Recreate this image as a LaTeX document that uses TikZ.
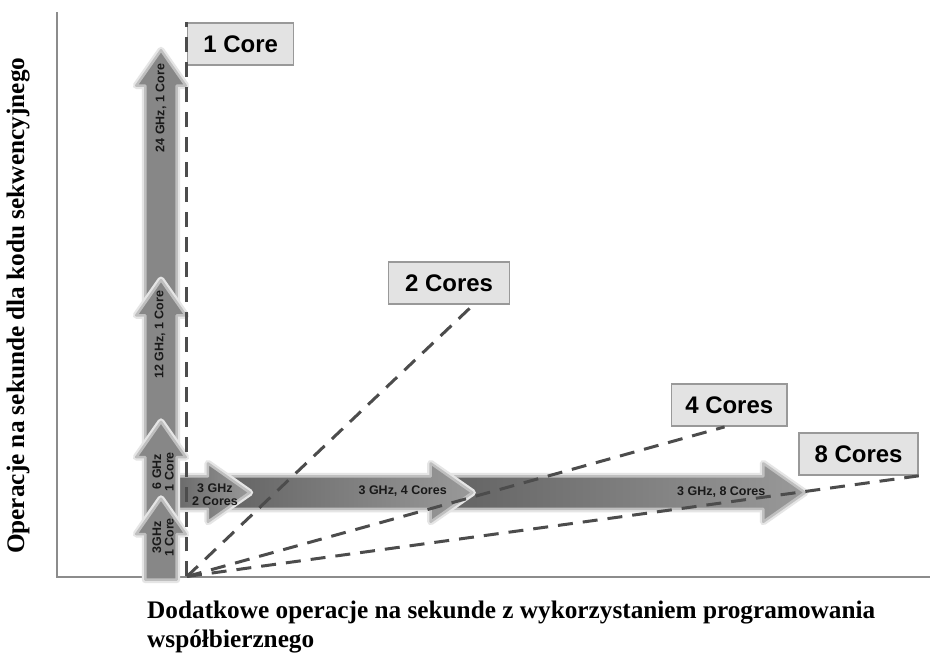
\documentclass[tikz,border=0pt]{standalone}
\usepackage{fontspec}
\setmainfont{Liberation Serif}
\setsansfont{Liberation Sans}
\usetikzlibrary{shapes.arrows,calc}

\tikzset{
	growth/.style={single arrow, inner sep=0pt, single arrow tip angle=70,
		line join=round, draw=black!25, line width=2.5pt,
		preaction={draw=black!10, line width=7pt, line join=round}},
	uparr/.style={growth, rotate=90, anchor=tip, fill=black!47,
		text height=14.5pt, text depth=14.5pt, single arrow head extend=9pt},
	rightarr/.style={growth, anchor=tip, left color=black!62, right color=black!40,
		text height=15pt, text depth=15pt, single arrow head extend=13pt},
	armlabel/.style={inner sep=0pt, align=center, text=black!90,
		font=\sffamily\bfseries\fontsize{12.5}{12.5}\selectfont},
	corebox/.style={draw=black!40, fill=black!11, line width=1.5pt,
		minimum height=42pt, inner sep=0pt,
		font=\sffamily\bfseries\fontsize{24}{24}\selectfont},
	coreline/.style={draw=black!70, line width=3pt, dash pattern=on 15pt off 10pt},
	axisline/.style={draw=black!45, line width=2pt},
	axislabel/.style={inner sep=0pt, font=\bfseries\fontsize{25.3}{29}\selectfont}
}

\begin{document}
\begin{tikzpicture}[x=1pt, y=-1pt]
		\filldraw[white] (0, 0) rectangle (931, 656);

		\coordinate (O) at (187, 577);

		\coordinate (T3) at (161, 497);
		\coordinate (T6) at (161, 420);
		\coordinate (T12) at (161, 278);
		\coordinate (T24) at (161, 48);

		\coordinate (R2) at (252, 493);
		\coordinate (R4) at (475, 493);
		\coordinate (R8) at (808, 493);

		% axes
		\draw[axisline] (57, 12) |- (931, 578);

		% more cores
		\node[rightarr, minimum height=373pt] (right8) at (R8) {};
		\node[rightarr, minimum height=263pt] (right4) at (R4) {};
		\node[rightarr, minimum height=87pt] (right2) at (R2) {};

		% faster clock
		\node[uparr, minimum height=263pt] (up24) at (T24) {};
		\node[uparr, minimum height=175pt] (up12) at (T12) {};
		\node[uparr, minimum height=110pt] (up6) at (T6) {};
		\node[uparr, minimum height=81pt] (up3) at (T3) {};

		\node[armlabel, rotate=90] (t24) at (161, 108) {24 GHz, 1 Core};
		\node[armlabel, rotate=90] (t12) at (160, 335) {12 GHz, 1 Core};
		\node[armlabel, rotate=90] (t6) at (163, 472) {6 GHz\\1 Core};
		\node[armlabel, rotate=90] (t3) at (163, 538) {3GHz\\1 Core};
		\node[armlabel] (t2c) at (215, 495) {3 GHz\\2 Cores};
		\node[armlabel] (t4c) at (403, 492) {3 GHz, 4 Cores};
		\node[armlabel] (t8c) at (722, 493) {3 GHz, 8 Cores};

		\node[corebox, anchor=north west, minimum width=106pt] (core1) at (187, 22) {1 Core};
		\node[corebox, minimum width=121pt] (core2) at (449.5, 283) {2 Cores};
		\node[corebox, minimum width=116pt] (core4) at (730, 405.5) {4 Cores};
		\node[corebox, minimum width=119pt] (core8) at (859.5, 454.5) {8 Cores};

		\draw[coreline] (O) -- (core1.north west);
		\draw[coreline] (O) -- ($(core2.south west)!0.7!(core2.south east)$);
		\draw[coreline] (O) -- ($(core4.south west)!0.46!(core4.south east)$);
		\draw[coreline] (O) -- (core8.south east);

		\node[axislabel, rotate=90] (ylab) at (18, 306) {Operacje na sekunde dla kodu sekwencyjnego};
		\node[axislabel, anchor=north west, align=left] (xlab) at (147, 601)
			{Dodatkowe operacje na sekunde z wykorzystaniem programowania\\współbierznego};
	\end{tikzpicture}
\end{document}
